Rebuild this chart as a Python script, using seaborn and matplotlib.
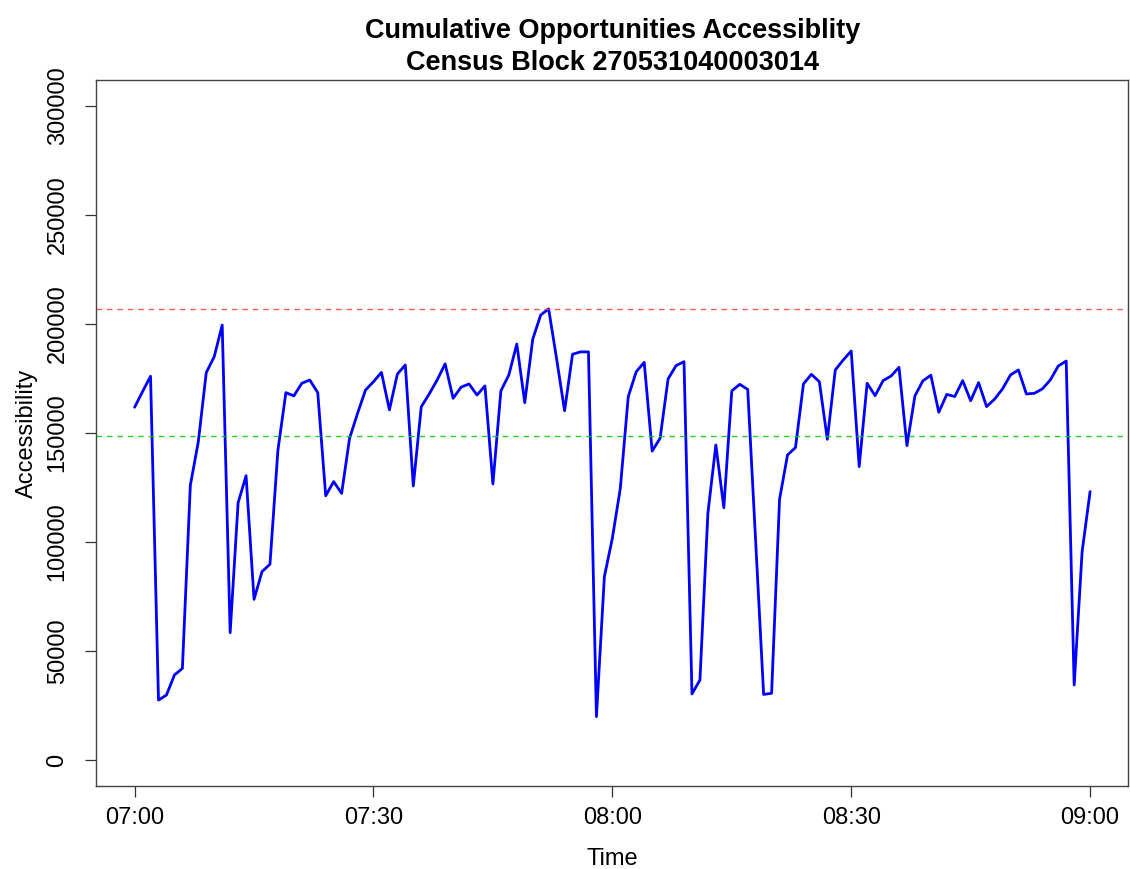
import matplotlib
matplotlib.use("Agg")
import matplotlib.pyplot as plt
import numpy as np
import seaborn as sns

# --------------------------------------------------
# Data: accessibility per departure minute (07:00 - 09:00)
# --------------------------------------------------
minutes = list(range(0, 121))  # minutes after 07:00

accessibility = [
    161800, 169000, 176000, 27500, 29800, 39000, 42000, 126000, 146000, 177700,
    185000, 199500, 58400, 118000, 130400, 73700, 86400, 89800, 142200, 168500,
    167000, 172800, 174300, 168500, 121200, 127700, 122300, 147600, 159000, 169700,
    173500, 177800, 160600, 177000, 181200, 125700, 162000, 167900, 174300, 181700,
    165900, 171000, 172500, 167400, 171600, 126600, 169300, 176600, 190800, 163900,
    193000, 204100, 206900, 184000, 160200, 186100, 187200, 187200, 19900, 84100,
    101700, 124600, 166700, 178100, 182400, 141700, 147600, 174800, 180900, 182700,
    30300, 36700, 113200, 144500, 115700, 169300, 172300, 170000, 100200, 30100,
    30600, 119600, 139900, 143300, 172500, 176900, 173500, 147100, 178900, 183500,
    187600, 134600, 172800, 167100, 174000, 176100, 180100, 144200, 167000, 173900,
    176500, 159500, 167700, 166700, 174000, 164800, 173100, 162100, 165500, 170200,
    176600, 178900, 167900, 168200, 170200, 174300, 180700, 183000, 34400, 95600,
    123100,
]

x_ticks = [0, 30, 60, 90, 120]
x_tick_labels = ["07:00", "07:30", "08:00", "08:30", "09:00"]
y_ticks = [0, 50000, 100000, 150000, 200000, 250000, 300000]

title_text = "Cumulative Opportunities Accessiblity\nCensus Block 270531040003014"

# --------------------------------------------------
# Style
# --------------------------------------------------
sns.set_theme(style="ticks")
plt.rcParams["font.family"] = ["Liberation Sans", "DejaVu Sans"]
plt.rcParams["text.color"] = "black"
plt.rcParams["axes.labelcolor"] = "black"

fig = plt.figure(figsize=(11.3, 8.69), dpi=100)
ax = fig.add_axes([0.0853, 0.0953, 0.9132, 0.8129])

sns.lineplot(x=minutes, y=accessibility, ax=ax, color="#0000ff", linewidth=2.0)

# max (red) and mean (green) reference lines
ax.axhline(np.max(accessibility), color="#ff3030", linewidth=1.0, alpha=0.8,
           linestyle=(0, (4, 3.5)))
ax.axhline(np.mean(accessibility), color="#00cc00", linewidth=1.0, alpha=0.85,
           linestyle=(0, (4, 3.5)))

ax.set_xlim(-4.8, 124.8)
ax.set_ylim(-12000, 312000)
ax.set_xticks(x_ticks)
ax.set_xticklabels(x_tick_labels)
ax.set_yticks(y_ticks)
ax.set_yticklabels([str(v) for v in y_ticks], rotation=90, va="center")

ax.tick_params(axis="both", direction="out", length=8, width=0.9,
               colors="#333333", labelcolor="black", labelsize=17)
ax.tick_params(axis="x", pad=7)
ax.tick_params(axis="y", pad=12)

for side in ["top", "right", "bottom", "left"]:
    ax.spines[side].set_visible(True)
    ax.spines[side].set_color("#444444")
    ax.spines[side].set_linewidth(1.0)

ax.set_xlabel("Time", fontsize=17, color="black")
ax.set_ylabel("Accessibility", fontsize=17, color="black")
ax.xaxis.set_label_coords(0.5, -0.088)
ax.yaxis.set_label_coords(-0.057, 0.5)

ax.set_title(title_text, fontsize=19.5, fontweight="bold", pad=7,
             linespacing=1.3, color="black")

fig.savefig("out.png", dpi=100, facecolor="white")
plt.close(fig)
